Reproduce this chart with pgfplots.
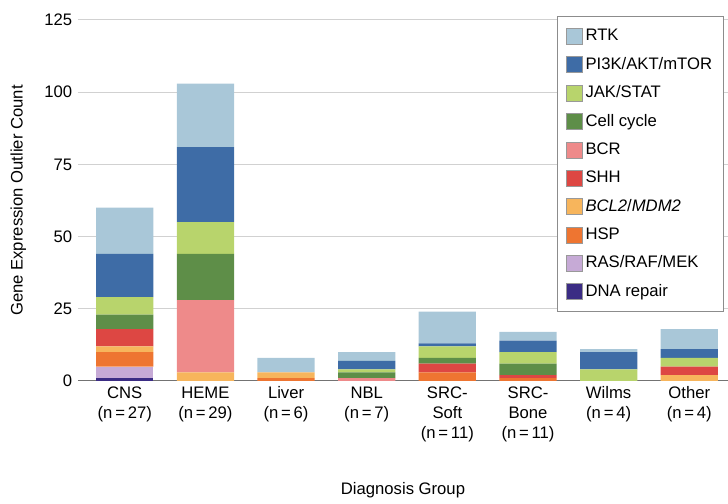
\documentclass[border=0pt]{standalone}
\usepackage{fontspec}
\setmainfont{Liberation Sans}
\usepackage{pgfplots}
\pgfplotsset{compat=1.18}
\definecolor{cRTK}{HTML}{A9C7D8}
\definecolor{cPI}{HTML}{3E6CA6}
\definecolor{cJAK}{HTML}{B8D46C}
\definecolor{cCell}{HTML}{5E8E48}
\definecolor{cBCR}{HTML}{EE8A8A}
\definecolor{cSHH}{HTML}{DD4743}
\definecolor{cBCL}{HTML}{F7B55C}
\definecolor{cHSP}{HTML}{EE7531}
\definecolor{cRAS}{HTML}{C6AAD6}
\definecolor{cDNA}{HTML}{3B2C84}
\begin{document}
\begin{tikzpicture}[font=\fontsize{10}{12}\selectfont]
\begin{axis}[
  scale only axis, width=390pt, height=216.6pt,
  ybar stacked, bar width=0.71,
  xmin=-0.58, xmax=7.48, ymin=0, ymax=125,
  ytick={0,25,50,75,100,125},
  xtick={0,1,2,3,4,5,6,7},
  xticklabels={{CNS\\(n\,=\,27)},{HEME\\(n\,=\,29)},{Liver\\(n\,=\,6)},{NBL\\(n\,=\,7)},{SRC-\\Soft\\(n\,=\,11)},{SRC-\\Bone\\(n\,=\,11)},{Wilms\\(n\,=\,4)},{Other\\(n\,=\,4)}},
  xticklabel style={align=center, anchor=north, font=\fontsize{10}{12}\selectfont},
  yticklabel style={font=\fontsize{10}{12}\selectfont},
  /pgf/number format/assume math mode=true,
  axis line style={draw=none},
  major tick length=0pt,
  ymajorgrids, grid style={draw=black!18, line width=0.6pt},
  ylabel={Gene Expression Outlier Count},
  ylabel style={at={(axis description cs:-0.092,0.5)}, anchor=center},
  xlabel={Diagnosis Group},
  xlabel style={at={(axis description cs:0.5,-0.302)}, anchor=center},
  reverse legend,
  legend cell align=left,
  legend style={at={(rel axis cs:0.994,1.01)}, anchor=north east, draw=black!45, fill=white,
    font=\fontsize{10}{12}\selectfont, row sep=4.4pt, inner ysep=5.5pt, inner xsep=5pt},
  legend image code/.code={\draw[#1, draw=black!40, line width=0.4pt] (0pt,-4.8pt) rectangle (9.6pt,4.8pt);},
]
\addplot[fill=cDNA, draw=none] coordinates {(0,1) (1,0) (2,0) (3,0) (4,0) (5,0) (6,0) (7,0)};
\addplot[fill=cRAS, draw=none] coordinates {(0,4) (1,0) (2,0) (3,0) (4,0) (5,0) (6,0) (7,0)};
\addplot[fill=cHSP, draw=none] coordinates {(0,5) (1,0) (2,1) (3,0) (4,3) (5,1) (6,0) (7,0)};
\addplot[fill=cBCL, draw=none] coordinates {(0,2) (1,3) (2,2) (3,0) (4,0) (5,0) (6,0) (7,2)};
\addplot[fill=cSHH, draw=none] coordinates {(0,6) (1,0) (2,0) (3,0) (4,3) (5,1) (6,0) (7,3)};
\addplot[fill=cBCR, draw=none] coordinates {(0,0) (1,25) (2,0) (3,1) (4,0) (5,0) (6,0) (7,0)};
\addplot[fill=cCell, draw=none] coordinates {(0,5) (1,16) (2,0) (3,2) (4,2) (5,4) (6,0) (7,0)};
\addplot[fill=cJAK, draw=none] coordinates {(0,6) (1,11) (2,0) (3,1) (4,4) (5,4) (6,4) (7,3)};
\addplot[fill=cPI, draw=none] coordinates {(0,15) (1,26) (2,0) (3,3) (4,1) (5,4) (6,6) (7,3)};
\addplot[fill=cRTK, draw=none] coordinates {(0,16) (1,22) (2,5) (3,3) (4,11) (5,3) (6,1) (7,7)};
\legend{DNA repair, RAS/RAF/MEK, HSP, \textit{BCL2}/\textit{MDM2}, SHH, BCR, Cell cycle, JAK/STAT, PI3K/AKT/mTOR, RTK}
\draw[black!55, line width=0.9pt] (rel axis cs:0,0) -- (rel axis cs:1,0);
\coordinate (bl) at (rel axis cs:0,0);
\coordinate (tr) at (rel axis cs:1,1);
\end{axis}
\pgfresetboundingbox
\path[use as bounding box] ([xshift=-46.8pt,yshift=-73.8pt]bl) rectangle ([yshift=12pt]tr);
\end{tikzpicture}
\end{document}
